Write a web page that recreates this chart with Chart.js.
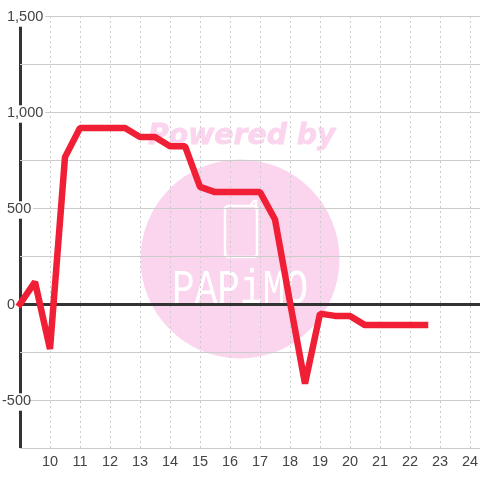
<!DOCTYPE html>
<html><head><meta charset="utf-8">
<style>html,body{margin:0;padding:0;background:#fff}#w{width:480px;height:480px}</style>
<script src="https://cdn.jsdelivr.net/npm/chart.js@4"></script></head>
<body><div id="w"><canvas id="c" width="480" height="480"></canvas></div>
<script>
const hours=[9,9.5,10,10.5,11,11.5,12,12.5,13,13.5,14,14.5,15,15.5,16,16.5,17,17.5,18,18.5,19,19.5,20,20.5,21,21.5,22,22.5];
const values=[0,115,-235,765,917,917,917,917,870,870,822,822,610,583,583,583,583,440,10,-415,-50,-62,-62,-110,-110,-110,-110,-110];
const yLabelEvery=500;
const watermark={
  id:'watermark',
  beforeDraw(chart){
    const c=chart.ctx;c.save();
    c.fillStyle='#fff';c.fillRect(0,0,480,480);
    c.fillStyle='#fbd5ee';
    c.beginPath();c.arc(240,259,99.5,0,Math.PI*2);c.fill();
    c.font='italic bold 28.3px "DejaVu Sans"';c.textAlign='left';c.textBaseline='alphabetic';
    c.strokeStyle='#fbd5ee';c.lineWidth=0.8;
    c.fillText('Powered by',148,144);
    c.strokeText('Powered by',148,144);
    c.strokeStyle='#fff';c.lineWidth=2.4;
    c.beginPath();c.roundRect(225,206,32,51,3);c.stroke();
    c.beginPath();c.moveTo(250,206);c.lineTo(254,201);c.lineTo(256,201);c.lineTo(256,210);c.stroke();
    c.fillStyle='#fff';
    c.save();c.translate(172,303);c.scale(1.05,1.32);
    c.font='36px "Liberation Mono"';c.fillText('PAPiMO',0,0);
    c.restore();
    c.restore();
  }
};
const nudgeLabels={
  id:'nudgeLabels',
  beforeDraw(chart){
    const s=chart.scales.y;
    s.getLabelItems(chart.chartArea).forEach(it=>{
      it.options.translation[1]+=1;
      if(it.options.backdrop)it.options.backdrop.top+=1;
      if(String(it.label).startsWith('-')){
        it.options.translation[0]-=5;
        if(it.options.backdrop)it.options.backdrop.left-=5;
      }
    });
  }
};
new Chart(document.getElementById('c'),{
  type:'line',
  data:{datasets:[{
    data:hours.map((h,i)=>({x:h,y:values[i]})),
    borderColor:'#f01f36',borderWidth:6.5,borderJoinStyle:'bevel',borderCapStyle:'square',
    pointRadius:0,tension:0,clip:false,fill:false
  }]},
  plugins:[watermark,nudgeLabels],
  options:{
    responsive:false,animation:false,
    layout:{padding:{left:0,top:16,right:0,bottom:0}},
    plugins:{legend:{display:false},tooltip:{enabled:false},title:{display:false}},
    scales:{
      x:{
        type:'linear',min:9,max:24.3333,
        grid:{
          color:c=>c.tick&&c.tick.value===9?'#333':'#ccc',
          lineWidth:c=>c.tick&&c.tick.value===9?3:1,
          drawTicks:false
        },
        border:{display:false,dash:c=>c.tick&&c.tick.value===9?[]:[2,3]},
        ticks:{stepSize:1,includeBounds:false,autoSkip:false,maxRotation:0,padding:5,
          color:'#444',font:{family:'"Liberation Sans"',size:14.5},
          callback:v=>v===9?'':String(v)},
        afterFit(s){s.height=32;s.paddingLeft=0;s.paddingRight=0;}
      },
      y:{
        type:'linear',min:-750,max:1500,
        grid:{
          color:c=>c.tick&&c.tick.value===0?'#333':'#ccc',
          lineWidth:c=>c.tick&&c.tick.value===0?3:1,
          drawTicks:false
        },
        border:{display:false},
        ticks:{stepSize:250,mirror:true,padding:-13,
          color:'#444',font:{family:'"Liberation Sans"',size:14.5},
          showLabelBackdrop:c=>c.tick&&c.tick.value%yLabelEvery===0,
          backdropColor:'#fff',backdropPadding:{left:2,right:2,top:0,bottom:0},
          callback:v=>v%yLabelEvery===0?v.toLocaleString('en-US'):''},
        afterFit(s){s.width=20;}
      }
    }
  }
});
</script></body></html>
